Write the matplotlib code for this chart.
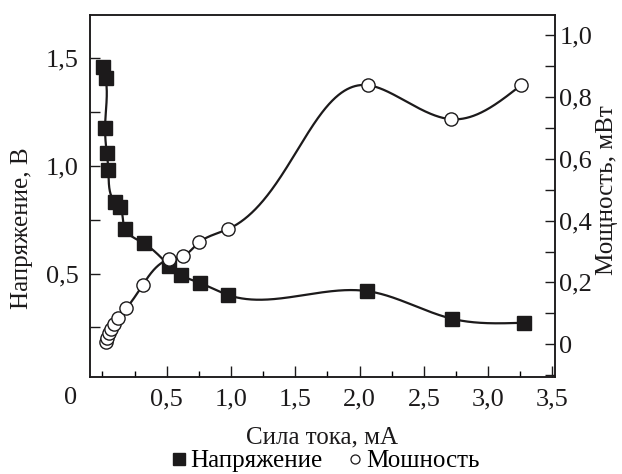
import numpy as np
import matplotlib.pyplot as plt
from matplotlib.lines import Line2D
from matplotlib.ticker import MultipleLocator

plt.rcParams['font.family'] = ['Liberation Serif', 'DejaVu Serif']

# current (mA) and voltage (V)
current_v = [0.002, 0.025, 0.021, 0.034, 0.047, 0.099, 0.135, 0.174, 0.323,
             0.522, 0.612, 0.757, 0.98, 2.056, 2.722, 3.279]
voltage = [1.461, 1.406, 1.176, 1.060, 0.981, 0.831, 0.808, 0.708, 0.640,
           0.536, 0.493, 0.457, 0.400, 0.419, 0.290, 0.272]

# current (mA) and power (mW)
current_p = [0.025, 0.035, 0.052, 0.069, 0.091, 0.120, 0.186, 0.314, 0.521,
             0.625, 0.754, 0.98, 2.066, 2.711, 3.255]
power = [0.007, 0.020, 0.035, 0.049, 0.066, 0.085, 0.117, 0.192, 0.275,
         0.285, 0.330, 0.373, 0.838, 0.728, 0.838]

xticks = [0.5, 1.0, 1.5, 2.0, 2.5, 3.0, 3.5]
xtick_labels = ['0,5', '1,0', '1,5', '2,0', '2,5', '3,0', '3,5']
yticks_v = [0.5, 1.0, 1.5]
ytick_labels_v = ['0,5', '1,0', '1,5']
yticks_p = [0, 0.2, 0.4, 0.6, 0.8, 1.0]
ytick_labels_p = ['0', '0,2', '0,4', '0,6', '0,8', '1,0']

ink = '#1c1a1b'


def spline_1d(t, y, tt):
    # natural cubic spline
    n = len(t)
    h = np.diff(t)
    A = np.zeros((n, n))
    b = np.zeros(n)
    A[0, 0] = A[-1, -1] = 1
    for i in range(1, n - 1):
        A[i, i - 1] = h[i - 1]
        A[i, i] = 2 * (h[i - 1] + h[i])
        A[i, i + 1] = h[i]
        b[i] = 3 * ((y[i + 1] - y[i]) / h[i] - (y[i] - y[i - 1]) / h[i - 1])
    c = np.linalg.solve(A, b)
    bb = (y[1:] - y[:-1]) / h - h * (2 * c[:-1] + c[1:]) / 3
    d = (c[1:] - c[:-1]) / (3 * h)
    idx = np.clip(np.searchsorted(t, tt) - 1, 0, n - 2)
    dt = tt - t[idx]
    return y[idx] + bb[idx] * dt + c[idx] * dt ** 2 + d[idx] * dt ** 3


def smooth_curve(ax, x, y):
    # parametric spline in screen space so the curve looks even
    pts = ax.transData.transform(np.column_stack([x, y]))
    seg = np.hypot(*np.diff(pts, axis=0).T)
    t = np.concatenate([[0], np.cumsum(seg)])
    tt = np.linspace(0, t[-1], 1500)
    sx = spline_1d(t, pts[:, 0], tt)
    sy = spline_1d(t, pts[:, 1], tt)
    return ax.transData.inverted().transform(np.column_stack([sx, sy])).T


fig = plt.figure(figsize=(6.22, 4.74), dpi=100)
ax = fig.add_axes([0.1439, 0.2046, 0.7484, 0.7637])
ax2 = ax.twinx()

ax.set_xlim(-0.1, 3.52)
ax.set_ylim(0.02, 1.70)
ax2.set_ylim(-0.106, 1.065)

cx, cy = smooth_curve(ax, current_v, voltage)
ax.plot(cx, cy, color=ink, lw=1.6)
ax.plot(current_v, voltage, 's', color=ink, ms=9.5, mec=ink)

px, py = smooth_curve(ax2, current_p, power)
ax2.plot(px, py, color=ink, lw=1.6)
ax2.plot(current_p, power, 'o', color='white', ms=9.5, mec=ink, mew=1.0)

ax.set_xticks(xticks)
ax.set_xticklabels(xtick_labels)
ax.xaxis.set_minor_locator(MultipleLocator(0.25))
ax.set_yticks(yticks_v)
ax.set_yticklabels(ytick_labels_v)
ax.yaxis.set_minor_locator(MultipleLocator(0.25))
ax2.set_yticks(yticks_p)
ax2.set_yticklabels(ytick_labels_p)
ax2.yaxis.set_minor_locator(MultipleLocator(0.1))

ax.tick_params(axis='x', which='major', direction='in', length=8, width=1, pad=8, labelsize=19, colors=ink)
ax.tick_params(axis='x', which='minor', direction='in', length=4, width=1)
ax.tick_params(axis='y', which='both', direction='in', length=7, width=1, pad=8, labelsize=19, colors=ink)
ax2.tick_params(axis='y', which='both', direction='in', length=7, width=1, pad=3, labelsize=19, colors=ink)
for a in (ax, ax2):
    for s in a.spines.values():
        s.set_linewidth(1.1)
        s.set_color(ink)

ax.text(-0.25, -0.028, '0', transform=ax.get_xaxis_transform(), ha='center', va='top',
        fontsize=19, color=ink)

fig.text(22 / 622, 1 - 228 / 474, 'Напряжение, В', rotation=90, ha='center', va='center',
         fontsize=18, color=ink)
fig.text(607 / 622, 1 - 190 / 474, 'Мощность, мВт', rotation=90, ha='center', va='center',
         fontsize=18, color=ink)
fig.text(322 / 622, 1 - 437 / 474, 'Сила тока, мА', ha='center', va='center',
         fontsize=18, color=ink)

handles = [Line2D([], [], ls='', marker='s', color=ink, ms=8),
           Line2D([], [], ls='', marker='o', mfc='white', mec=ink, ms=6.5, mew=0.9)]
fig.legend(handles, ['Напряжение', 'Мошность'], loc='center', ncol=2,
           bbox_to_anchor=(326 / 622, 1 - 461 / 474), frameon=False, fontsize=18,
           handlelength=0.6, handletextpad=0.15, columnspacing=1.0, borderpad=0)

fig.savefig('out.png', dpi=100)
